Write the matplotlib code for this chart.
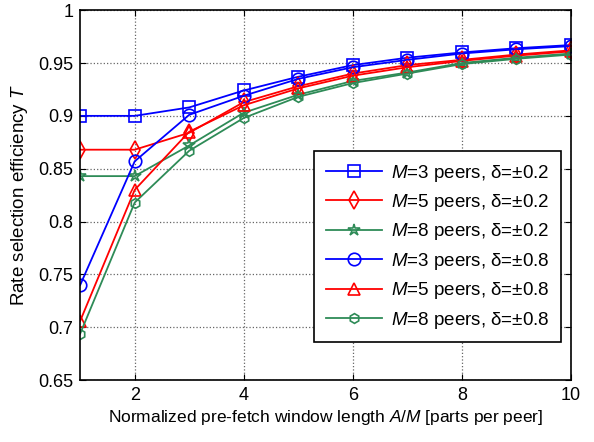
import matplotlib
matplotlib.use('Agg')
import matplotlib.pyplot as plt
from matplotlib.ticker import FixedLocator

plt.rcParams['font.family'] = ['Liberation Sans', 'DejaVu Sans']
plt.rcParams['mathtext.fontset'] = 'custom'
plt.rcParams['mathtext.it'] = 'Liberation Sans:italic'
plt.rcParams['mathtext.rm'] = 'Liberation Sans'

# data
window = [1, 2, 3, 4, 5, 6, 7, 8, 9, 10]
m3_d02 = [0.900, 0.900, 0.908, 0.924, 0.937, 0.948, 0.955, 0.960, 0.964, 0.967]
m5_d02 = [0.868, 0.868, 0.884, 0.913, 0.928, 0.940, 0.948, 0.953, 0.958, 0.962]
m8_d02 = [0.843, 0.843, 0.872, 0.903, 0.920, 0.933, 0.941, 0.950, 0.955, 0.959]
m3_d08 = [0.740, 0.857, 0.901, 0.919, 0.935, 0.946, 0.953, 0.959, 0.963, 0.966]
m5_d08 = [0.706, 0.830, 0.885, 0.910, 0.926, 0.938, 0.946, 0.952, 0.957, 0.961]
m8_d08 = [0.694, 0.818, 0.867, 0.898, 0.918, 0.931, 0.940, 0.949, 0.954, 0.958]

labels = [r'$M$=3 peers, δ=±0.2', r'$M$=5 peers, δ=±0.2', r'$M$=8 peers, δ=±0.2',
          r'$M$=3 peers, δ=±0.8', r'$M$=5 peers, δ=±0.8', r'$M$=8 peers, δ=±0.8']
series = [m3_d02, m5_d02, m8_d02, m3_d08, m5_d08, m8_d08]

blue = '#0000ff'
red = '#ff0000'
green = '#2e8b57'
styles = [(blue, 's', 8), (red, 'd', 9), (green, '*', 9),
          (blue, 'o', 9), (red, '^', 9), (green, 'h', 7)]

fig = plt.figure(figsize=(5.94, 4.42), dpi=100)
ax = fig.add_axes([0.135, 0.14, 0.826, 0.837])

for vals, lab, (c, m, ms) in zip(series, labels, styles):
    ax.plot(window, vals, color=c, marker=m, markersize=ms, markerfacecolor='none',
            markeredgecolor=c, markeredgewidth=1.2, linewidth=1.3, label=lab)

ax.set_xlim(1, 10)
ax.set_ylim(0.65, 1.0)
ax.xaxis.set_major_locator(FixedLocator([2, 4, 6, 8, 10]))
yt = [0.65, 0.7, 0.75, 0.8, 0.85, 0.9, 0.95, 1.0]
ax.set_yticks(yt)
ax.set_yticklabels(['0.65', '0.7', '0.75', '0.8', '0.85', '0.9', '0.95', '1'])
ax.tick_params(direction='in', top=True, right=True, labelsize=13, length=4, pad=5)
ax.grid(True, linestyle=':', color='#666666', linewidth=0.9)
for s in ax.spines.values():
    s.set_linewidth(1.2)

ax.set_xlabel(r'Normalized pre-fetch window length $A/M$ [parts per peer]', fontsize=12.5,
              labelpad=3)
ax.set_ylabel(r'Rate selection efficiency $T$', fontsize=13.5, labelpad=6)

leg = ax.legend(loc='lower right', bbox_to_anchor=(0.98, 0.103), fontsize=13.5,
                fancybox=False, edgecolor='black', framealpha=1,
                handlelength=3.0, labelspacing=0.45, borderpad=0.6,
                handletextpad=0.5, borderaxespad=0)
leg.get_frame().set_linewidth(1.2)

fig.savefig('out.png', dpi=100)
